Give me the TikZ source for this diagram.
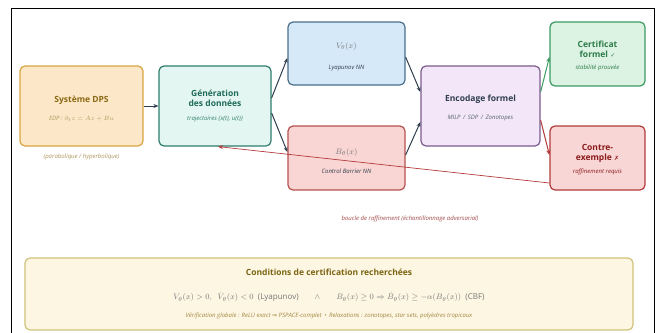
\documentclass[tikz,border=0pt]{standalone}
\usepackage{fontspec}
\setmainfont{Open Sans}
\newfontfamily\symf{DejaVu Sans}
\usepackage{amsmath,amssymb}
\usetikzlibrary{arrows.meta}
\definecolor{dpsF}{HTML}{FCE8C8}\definecolor{dpsD}{HTML}{D9A441}\definecolor{dpsT}{HTML}{8B6914}
\definecolor{genF}{HTML}{E4F6F1}\definecolor{genD}{HTML}{2E7D6B}\definecolor{genT}{HTML}{1F6B5A}
\definecolor{vF}{HTML}{D6E9F8}\definecolor{vD}{HTML}{4A6F8A}
\definecolor{bF}{HTML}{F9D5D3}\definecolor{bD}{HTML}{B5524F}
\definecolor{encF}{HTML}{F2E6F8}\definecolor{encD}{HTML}{7B5B8E}
\definecolor{cerF}{HTML}{DCF2E3}\definecolor{cerD}{HTML}{3C9B62}\definecolor{cerT}{HTML}{2E7D4A}
\definecolor{ctrF}{HTML}{F9D6D6}\definecolor{ctrD}{HTML}{B23A3A}\definecolor{ctrT}{HTML}{8B1A1A}
\definecolor{botF}{HTML}{FDF6E3}\definecolor{botD}{HTML}{CFC27A}\definecolor{botT}{HTML}{7A6512}
\definecolor{arr}{HTML}{2F3E4E}\definecolor{sub}{HTML}{777777}
\begin{document}
\begin{tikzpicture}[x=1pt,y=-1pt,
  box/.style={rounded corners=5pt,line width=1.2pt,inner sep=0pt},
  ttl/.style={font=\bfseries\fontsize{8.5}{10}\selectfont,align=center},
  subt/.style={font=\itshape\fontsize{6}{7}\selectfont,text=sub},
  mth/.style={font=\fontsize{8}{9}\selectfont,text=sub},
  conn/.style={line width=1pt,draw=arr,-{Stealth[length=5pt,width=4pt]}}]
\useasboundingbox (0,0) rectangle (661,332);
\draw[line width=0.8pt] (11,340) -- (11,8) -- (654,8) -- (654,340);
% boxes
\node[box,draw=dpsD,fill=dpsF,minimum width=123pt,minimum height=80pt] (dps) at (81.5,106) {};
\node[box,draw=genD,fill=genF,minimum width=112pt,minimum height=80pt] (gen) at (215,106) {};
\node[box,draw=vD,fill=vF,minimum width=117pt,minimum height=63pt] (v) at (346.5,53.5) {};
\node[box,draw=bD,fill=bF,minimum width=117pt,minimum height=64pt] (b) at (346.5,158) {};
\node[box,draw=encD,fill=encF,minimum width=119pt,minimum height=80pt] (enc) at (480.5,106) {};
\node[box,draw=cerD,fill=cerF,minimum width=95pt,minimum height=64pt] (cer) at (597.5,54) {};
\node[box,draw=ctrD,fill=ctrF,minimum width=95pt,minimum height=64pt] (ctr) at (597.5,158) {};
\node[box,draw=botD,fill=botF,minimum width=608pt,minimum height=72pt] (bot) at (329,294) {};
% texts
\node[ttl,text=dpsT] (dpsA) at (81.5,100) {Système DPS};
\node[subt,text=dpsT!70] (dpsB) at (81.5,119) {EDP : $\partial_t z = Az + Bu$};
\node[subt,text=dpsT!70] (dpsC) at (81.5,157) {(parabolique / hyperbolique)};
\node[ttl,text=genT] (genA) at (215,98) {Génération\\des données};
\node[subt,text=genD] (genB) at (215,119) {trajectoires \{x(t), u(t)\}};
\node[mth] (vA) at (346.5,46) {$V_\theta(x)$};
\node[subt,text=arr] (vB) at (346.5,68) {Lyapunov NN};
\node[mth] (bA) at (346.5,152) {$B_\theta(x)$};
\node[subt,text=arr] (bB) at (346.5,171) {Control Barrier NN};
\node[ttl,text=arr] (encA) at (480.5,99) {Encodage formel};
\node[subt,text=arr!80] (encB) at (480.5,118) {MILP \,/\, SDP \,/\, Zonotopes};
\node[ttl,text=cerT] (cerA) at (597.5,49) {Certificat\\formel {\symf\mdseries\fontsize{6}{7}\selectfont ✓}};
\node[subt,text=cerT] (cerB) at (597.5,68) {stabilité prouvée};
\node[ttl,text=ctrT] (ctrA) at (597.5,153) {Contre-\\exemple {\symf\mdseries\fontsize{6}{7}\selectfont ✗}};
\node[subt,text=ctrT] (ctrB) at (597.5,172) {raffinement requis};
\node[subt,text=ctrT!80] (loop) at (410,219) {boucle de raffinement (échantillonnage adversarial)};
\node[ttl,text=botT] (botA) at (329,272) {Conditions de certification recherchées};
\node[mth,text=sub] (botB) at (329,297) {$V_\theta(x)>0,\ \ \dot{V}_\theta(x)<0$\ \ (Lyapunov)\qquad$\wedge$\qquad$B_\theta(x)\ge 0\Rightarrow \dot{B}_\theta(x)\ge-\alpha(B_\theta(x))$\ \ (CBF)};
\node[subt,text=dpsT!80] (botC) at (329,316) {Vérification globale : ReLU exact {\symf\upshape ⇒} PSPACE-complet \,•\, Relaxations : zonotopes, star sets, polyèdres tropicaux};
% connectors
\draw[conn] (dps.east) -- (gen.west);
\draw[conn] ([yshift=8pt]gen.east) -- ([yshift=-4.5pt]v.west);
\draw[conn] ([yshift=-7pt]gen.east) -- ([yshift=6pt]b.west);
\draw[conn] ([yshift=-3.5pt]v.east) -- ([yshift=14pt]enc.west);
\draw[conn] ([yshift=3pt]b.east) -- ([yshift=-16pt]enc.west);
\draw[conn,draw=cerD] ([yshift=14pt]enc.east) -- ([yshift=-3pt]cer.west);
\draw[conn,draw=ctrD] ([yshift=-14pt]enc.east) -- ([yshift=3pt]ctr.west);
\draw[line width=0.7pt,draw=ctrD,-{Stealth[length=5pt,width=4pt]}] ([yshift=-25pt]ctr.west) -- ([xshift=3pt]gen.south);
\end{tikzpicture}
\end{document}
